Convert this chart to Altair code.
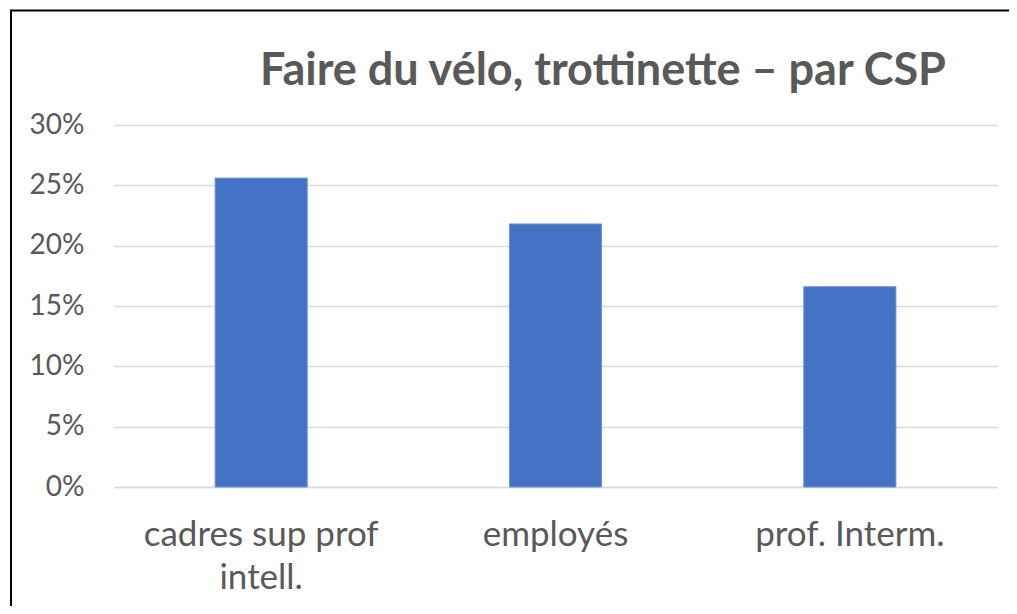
import altair as alt
import pandas as pd

categories = ["cadres sup prof intell.", "employés", "prof. Interm."]
values = [0.256, 0.218, 0.166]
title_text = "Faire du vélo, trottinette – par CSP"

df = pd.DataFrame({"csp": categories, "part": values})

FONT = "Lato"
GREY = "#595959"

bars = alt.Chart(df).mark_bar(color="#4472C4", stroke="#6f93d6", strokeWidth=1).encode(
    x=alt.X(
        "csp:N",
        sort=categories,
        title=None,
        scale=alt.Scale(paddingInner=0.687, paddingOuter=0.3435),
        axis=alt.Axis(
            labelAngle=0,
            labelFontSize=35,
            labelFont=FONT,
            labelColor=GREY,
            labelPadding=30,
            labelLineHeight=43,
            labelExpr="datum.value == 'cadres sup prof intell.' ? ['cadres sup prof', 'intell.'] : datum.value",
            ticks=False,
            domain=True,
            domainColor="#d9d9d9",
            domainWidth=1.5,
            labelLimit=400,
        ),
    ),
    y=alt.Y(
        "part:Q",
        title=None,
        scale=alt.Scale(domain=[0, 0.30], nice=False),
        axis=alt.Axis(
            format=".0%",
            values=[0, 0.05, 0.10, 0.15, 0.20, 0.25, 0.30],
            labelFontSize=28,
            labelFont=FONT,
            labelColor=GREY,
            labelPadding=30,
            ticks=False,
            domain=False,
            grid=True,
            gridColor="#d9d9d9",
            gridWidth=1.5,
        ),
    ),
)

title = alt.Chart(alt.Data(values=[{"t": title_text}])).mark_text(
    font=FONT, fontSize=45, fontWeight="bold", color=GREY,
    align="center", baseline="alphabetic",
).encode(
    text="t:N",
    x=alt.value(489),
    y=alt.value(-40),
)

frame = alt.Data(values=[{"k": 1}])
border_top = alt.Chart(frame).mark_rule(color="black", strokeWidth=2).encode(
    x=alt.value(-103),
    x2=alt.value(1000),
    y=alt.value(-114.5),
)
border_left = alt.Chart(frame).mark_rule(color="black", strokeWidth=2).encode(
    x=alt.value(-103),
    y=alt.value(-115.5),
    y2=alt.value(600),
)

chart = alt.layer(border_top, border_left, title, bars).properties(
    width=883,
    height=362,
    padding={"left": 106, "top": 117, "right": 12, "bottom": 119},
    autosize=alt.AutoSizeParams(type="none"),
).configure(
    background="white",
    view=alt.ViewConfig(stroke=None),
)

chart.save("out.html", embed_options={"renderer": "svg", "actions": False})
